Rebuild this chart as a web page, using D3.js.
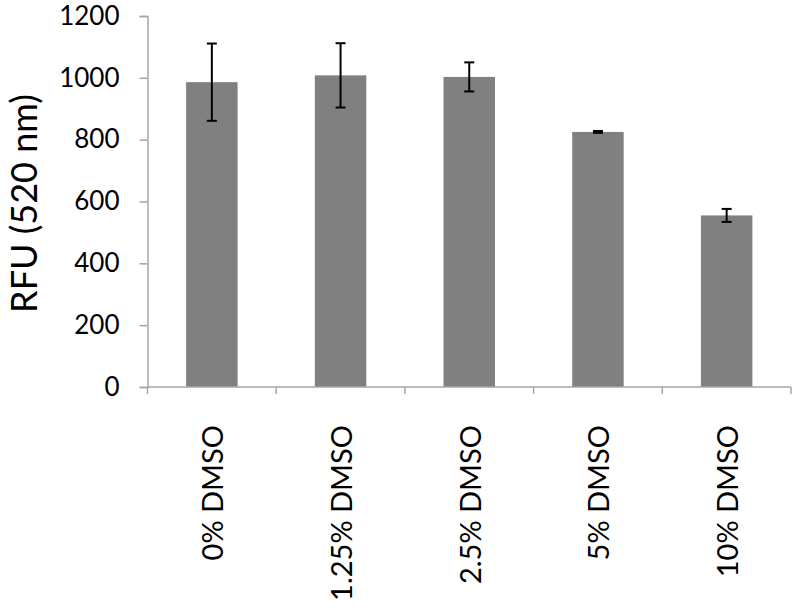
<!DOCTYPE html>
<html><head><meta charset="utf-8">
<script src="https://cdn.jsdelivr.net/npm/d3@7/dist/d3.min.js"></script>
<style>body{margin:0;background:#fff}svg{display:block}</style>
</head><body>
<svg id="chart" width="800" height="608"></svg>
<script>
const categories = ["0% DMSO","1.25% DMSO","2.5% DMSO","5% DMSO","10% DMSO"];
const values = [986, 1008, 1003, 825, 555];
const errors = [125, 104, 47, 3, 21];
const yTicks = [0,200,400,600,800,1000,1200];

const svg = d3.select("#chart");
const x0 = 147.5, x1 = 791, yb = 387, yt = 16;
const x = d3.scaleBand().domain(categories).range([x0, x1]).padding(0);
const y = d3.scaleLinear().domain([0,1200]).range([yb, yt]);
const axisColor = "#a6a6a6";
const font = "Lato, 'Open Sans', sans-serif";

// Y axis
const ya = svg.append("g").attr("transform", `translate(${x0},0)`)
  .call(d3.axisLeft(y).tickValues(yTicks).tickSize(8).tickPadding(20).tickFormat(d3.format("d")));
ya.select(".domain").attr("stroke", axisColor).attr("stroke-width", 1.5);
ya.selectAll(".tick line").attr("stroke", axisColor).attr("stroke-width", 1.5);
ya.selectAll(".tick text").attr("font-family", font).attr("font-size", 26).attr("fill", "#000");

// bars
const bw = x.bandwidth()*0.4;
svg.append("g").selectAll("rect").data(categories).join("rect")
  .attr("x", d => x(d) + x.bandwidth()/2 - bw/2)
  .attr("width", bw)
  .attr("y", (d,i) => y(values[i]))
  .attr("height", (d,i) => yb - y(values[i]))
  .attr("fill", "#808080");

// X axis
const xa = svg.append("g").attr("transform", `translate(0,${yb})`);
xa.append("line").attr("x1", x0).attr("x2", x1).attr("y1",0).attr("y2",0)
  .attr("stroke", axisColor).attr("stroke-width", 1.5);
const bounds = categories.map(c => x(c)).concat([x1]);
xa.selectAll("line.tk").data(bounds).join("line").attr("class","tk")
  .attr("x1", d=>d).attr("x2", d=>d).attr("y1",0).attr("y2",7)
  .attr("stroke", axisColor).attr("stroke-width", 1.5);
xa.selectAll("text").data(categories).join("text")
  .attr("transform", d => `translate(${x(d)+x.bandwidth()/2},${425-yb}) rotate(-90)`)
  .attr("text-anchor","end").attr("dominant-baseline","central")
  .attr("font-family", font).attr("font-size", 29).attr("fill","#000")
  .text(d=>d);

// error bars
const eg = svg.append("g").attr("stroke","#000").attr("stroke-width",2);
categories.forEach((c,i) => {
  const cx = x(c) + x.bandwidth()/2;
  const top = y(values[i]+errors[i]), bot = y(values[i]-errors[i]);
  eg.append("line").attr("x1",cx).attr("x2",cx).attr("y1",top).attr("y2",bot);
  eg.append("line").attr("x1",cx-5).attr("x2",cx+5).attr("y1",top).attr("y2",top);
  eg.append("line").attr("x1",cx-5).attr("x2",cx+5).attr("y1",bot).attr("y2",bot);
});

// Y title
svg.append("text").attr("transform", `translate(23,${(yb+yt)/2+2}) rotate(-90)`)
  .attr("text-anchor","middle").attr("dominant-baseline","central")
  .attr("font-family", font).attr("font-size", 36).attr("fill","#000")
  .text("RFU (520 nm)");
</script>
</body></html>
